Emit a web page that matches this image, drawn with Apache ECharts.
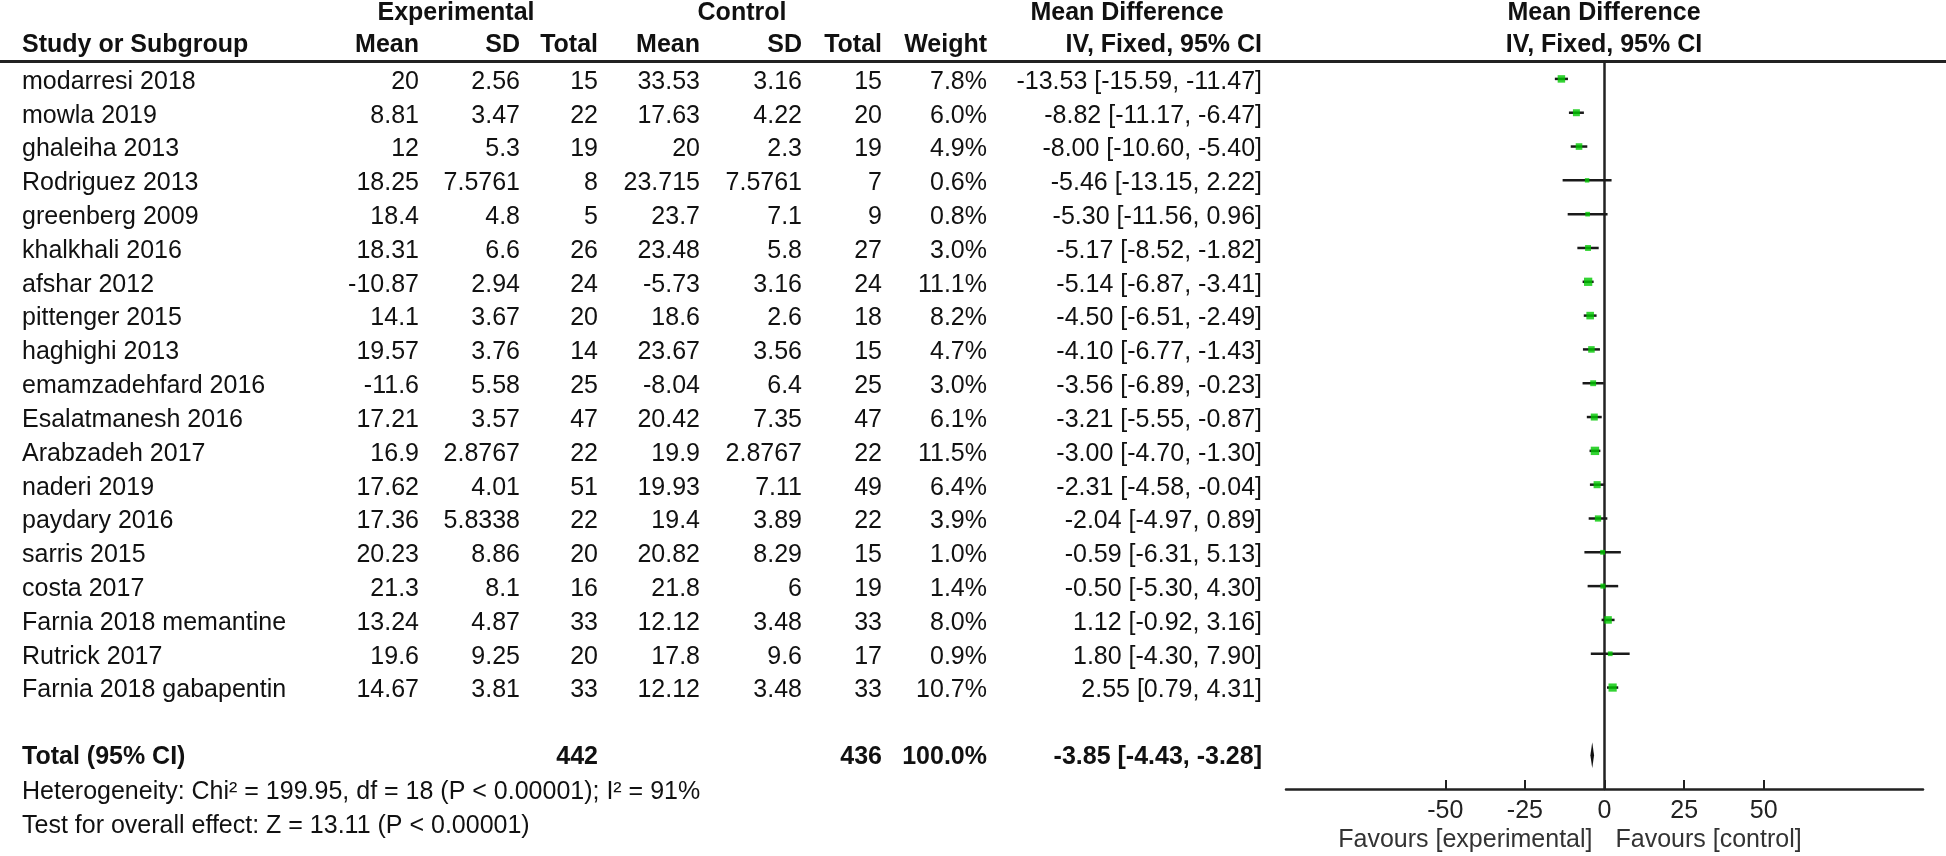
<!DOCTYPE html>
<html><head><meta charset="utf-8">
<script src="https://cdn.jsdelivr.net/npm/echarts@6/dist/echarts.min.js"></script>
<style>html,body{margin:0;padding:0;background:#fff}#c{width:1946px;height:856px}</style>
</head><body><div id="c"></div>
<script>
// ---------- data ----------
const studies = ["modarresi 2018","mowla 2019","ghaleiha 2013","Rodriguez 2013","greenberg 2009","khalkhali 2016","afshar 2012","pittenger 2015","haghighi 2013","emamzadehfard 2016","Esalatmanesh 2016","Arabzadeh 2017","naderi 2019","paydary 2016","sarris 2015","costa 2017","Farnia 2018 memantine","Rutrick 2017","Farnia 2018 gabapentin"];
const expMean = [20,8.81,12,18.25,18.4,18.31,-10.87,14.1,19.57,-11.6,17.21,16.9,17.62,17.36,20.23,21.3,13.24,19.6,14.67];
const expSD = [2.56,3.47,5.3,7.5761,4.8,6.6,2.94,3.67,3.76,5.58,3.57,2.8767,4.01,5.8338,8.86,8.1,4.87,9.25,3.81];
const expN = [15,22,19,8,5,26,24,20,14,25,47,22,51,22,20,16,33,20,33];
const ctlMean = [33.53,17.63,20,23.715,23.7,23.48,-5.73,18.6,23.67,-8.04,20.42,19.9,19.93,19.4,20.82,21.8,12.12,17.8,12.12];
const ctlSD = [3.16,4.22,2.3,7.5761,7.1,5.8,3.16,2.6,3.56,6.4,7.35,2.8767,7.11,3.89,8.29,6,3.48,9.6,3.48];
const ctlN = [15,20,19,7,9,27,24,18,15,25,47,22,49,22,15,19,33,17,33];
const weight = [7.8,6.0,4.9,0.6,0.8,3.0,11.1,8.2,4.7,3.0,6.1,11.5,6.4,3.9,1.0,1.4,8.0,0.9,10.7];
const md = [-13.53,-8.82,-8.00,-5.46,-5.30,-5.17,-5.14,-4.50,-4.10,-3.56,-3.21,-3.00,-2.31,-2.04,-0.59,-0.50,1.12,1.80,2.55];
const ciLo = [-15.59,-11.17,-10.60,-13.15,-11.56,-8.52,-6.87,-6.51,-6.77,-6.89,-5.55,-4.70,-4.58,-4.97,-6.31,-5.30,-0.92,-4.30,0.79];
const ciHi = [-11.47,-6.47,-5.40,2.22,0.96,-1.82,-3.41,-2.49,-1.43,-0.23,-0.87,-1.30,-0.04,0.89,5.13,4.30,3.16,7.90,4.31];
const totalExpN = 442, totalCtlN = 436, totalWeight = 100.0;
const totalMD = -3.85, totalLo = -4.43, totalHi = -3.28;
const heterogeneityText = "Heterogeneity: Chi² = 199.95, df = 18 (P < 0.00001); I² = 91%";
const overallText = "Test for overall effect: Z = 13.11 (P < 0.00001)";
const xTicks = [-50,-25,0,25,50];
const favoursLeft = "Favours [experimental]", favoursRight = "Favours [control]";

// ---------- chart ----------
const FONT = '"Liberation Sans", Arial, sans-serif';
const TOTAL_ROW = 20;
const chart = echarts.init(document.getElementById('c'));

const ciData = studies.map((s,i)=>[ciLo[i], ciHi[i], i]);
const ptData = studies.map((s,i)=>[md[i], i, weight[i]]);

chart.setOption({
  animation:false,
  grid:{left:1286, right:23, top:62, bottom:67},
  xAxis:{type:'value', min:-100, max:100,
    axisLine:{onZero:false, lineStyle:{color:'#222', width:2.5}},
    axisTick:{customValues:xTicks, inside:true, length:9, lineStyle:{color:'#222', width:2}},
    axisLabel:{customValues:xTicks, fontSize:25, fontFamily:FONT, color:'#222', margin:10},
    splitLine:{show:false}},
  yAxis:{type:'value', inverse:true, min:-0.5, max:21,
    axisLine:{show:true, onZero:true, lineStyle:{color:'#222', width:2.5}},
    axisTick:{show:false}, axisLabel:{show:false}, splitLine:{show:false}},
  series:[
    {type:'custom', z:2, data:ciData, encode:{x:[0,1], y:2},
     renderItem:(p,api)=>{
       const a=api.coord([api.value(0),api.value(2)]), b=api.coord([api.value(1),api.value(2)]);
       return {type:'line', shape:{x1:a[0],y1:a[1],x2:b[0],y2:b[1]}, style:{stroke:'#1a1a1a', lineWidth:2.5}};
     }},
    {type:'scatter', z:3, symbol:'rect', data:ptData,
     symbolSize:v=>3.3+1.5*Math.sqrt(v[2]), itemStyle:{color:'#00c800'}},
    {type:'custom', z:3, data:[[totalLo,totalHi,totalMD,TOTAL_ROW]], encode:{x:[0,1,2], y:3},
     renderItem:(p,api)=>{
       const y=api.value(3);
       const l=api.coord([api.value(0),y]), r=api.coord([api.value(1),y]), c=api.coord([api.value(2),y]);
       const h=13;
       return {type:'polygon', shape:{points:[[l[0],l[1]],[c[0],c[1]-h],[r[0],r[1]],[c[0],c[1]+h]]}, style:{fill:'#111'}};
     }}
  ]
});

// ---------- table text ----------
const els = [];
function txt(text, x, y, align, bold, color){
  els.push({type:'text', silent:true, style:{text:String(text), x:x, y:y,
    font:(bold?'bold ':'')+'25px '+FONT, fill:color||'#111',
    textAlign:align, align:align, textVerticalAlign:'middle', verticalAlign:'middle'}});
}
const rowY = i => chart.convertToPixel({yAxisIndex:0}, i) + 3;
const COL = {name:22, eMean:419, eSD:520, eN:598, cMean:700, cSD:802, cN:882, w:987, ci:1262};
const fmt2 = v => v.toFixed(2);

// headers
txt('Experimental', 456, 13, 'center', true);
txt('Control', 742, 13, 'center', true);
txt('Mean Difference', 1127, 13, 'center', true);
txt('Mean Difference', 1604, 13, 'center', true);
txt('Study or Subgroup', COL.name, 45, 'left', true);
txt('Mean', COL.eMean, 45, 'right', true);
txt('SD', COL.eSD, 45, 'right', true);
txt('Total', COL.eN, 45, 'right', true);
txt('Mean', COL.cMean, 45, 'right', true);
txt('SD', COL.cSD, 45, 'right', true);
txt('Total', COL.cN, 45, 'right', true);
txt('Weight', COL.w, 45, 'right', true);
txt('IV, Fixed, 95% CI', COL.ci, 45, 'right', true);
txt('IV, Fixed, 95% CI', 1604, 45, 'center', true);
els.push({type:'line', silent:true, shape:{x1:0,y1:61.5,x2:1946,y2:61.5}, style:{stroke:'#222', lineWidth:3}});

studies.forEach((s,i)=>{
  const y = rowY(i);
  txt(s, COL.name, y, 'left');
  txt(expMean[i], COL.eMean, y, 'right');
  txt(expSD[i], COL.eSD, y, 'right');
  txt(expN[i], COL.eN, y, 'right');
  txt(ctlMean[i], COL.cMean, y, 'right');
  txt(ctlSD[i], COL.cSD, y, 'right');
  txt(ctlN[i], COL.cN, y, 'right');
  txt(weight[i].toFixed(1)+'%', COL.w, y, 'right');
  txt(fmt2(md[i])+' ['+fmt2(ciLo[i])+', '+fmt2(ciHi[i])+']', COL.ci, y, 'right');
});
const ty = rowY(TOTAL_ROW) - 1;
txt('Total (95% CI)', COL.name, ty, 'left', true);
txt(totalExpN, COL.eN, ty, 'right', true);
txt(totalCtlN, COL.cN, ty, 'right', true);
txt(totalWeight.toFixed(1)+'%', COL.w, ty, 'right', true);
txt(fmt2(totalMD)+' ['+fmt2(totalLo)+', '+fmt2(totalHi)+']', COL.ci, ty, 'right', true);
txt(heterogeneityText, COL.name, 792, 'left');
txt(overallText, COL.name, 826, 'left');
const x0 = chart.convertToPixel({xAxisIndex:0}, 0);
txt(favoursLeft, x0-12, 840, 'right', false, '#333');
txt(favoursRight, x0+11, 840, 'left', false, '#333');

chart.setOption({graphic:{elements:els}});
</script></body></html>
